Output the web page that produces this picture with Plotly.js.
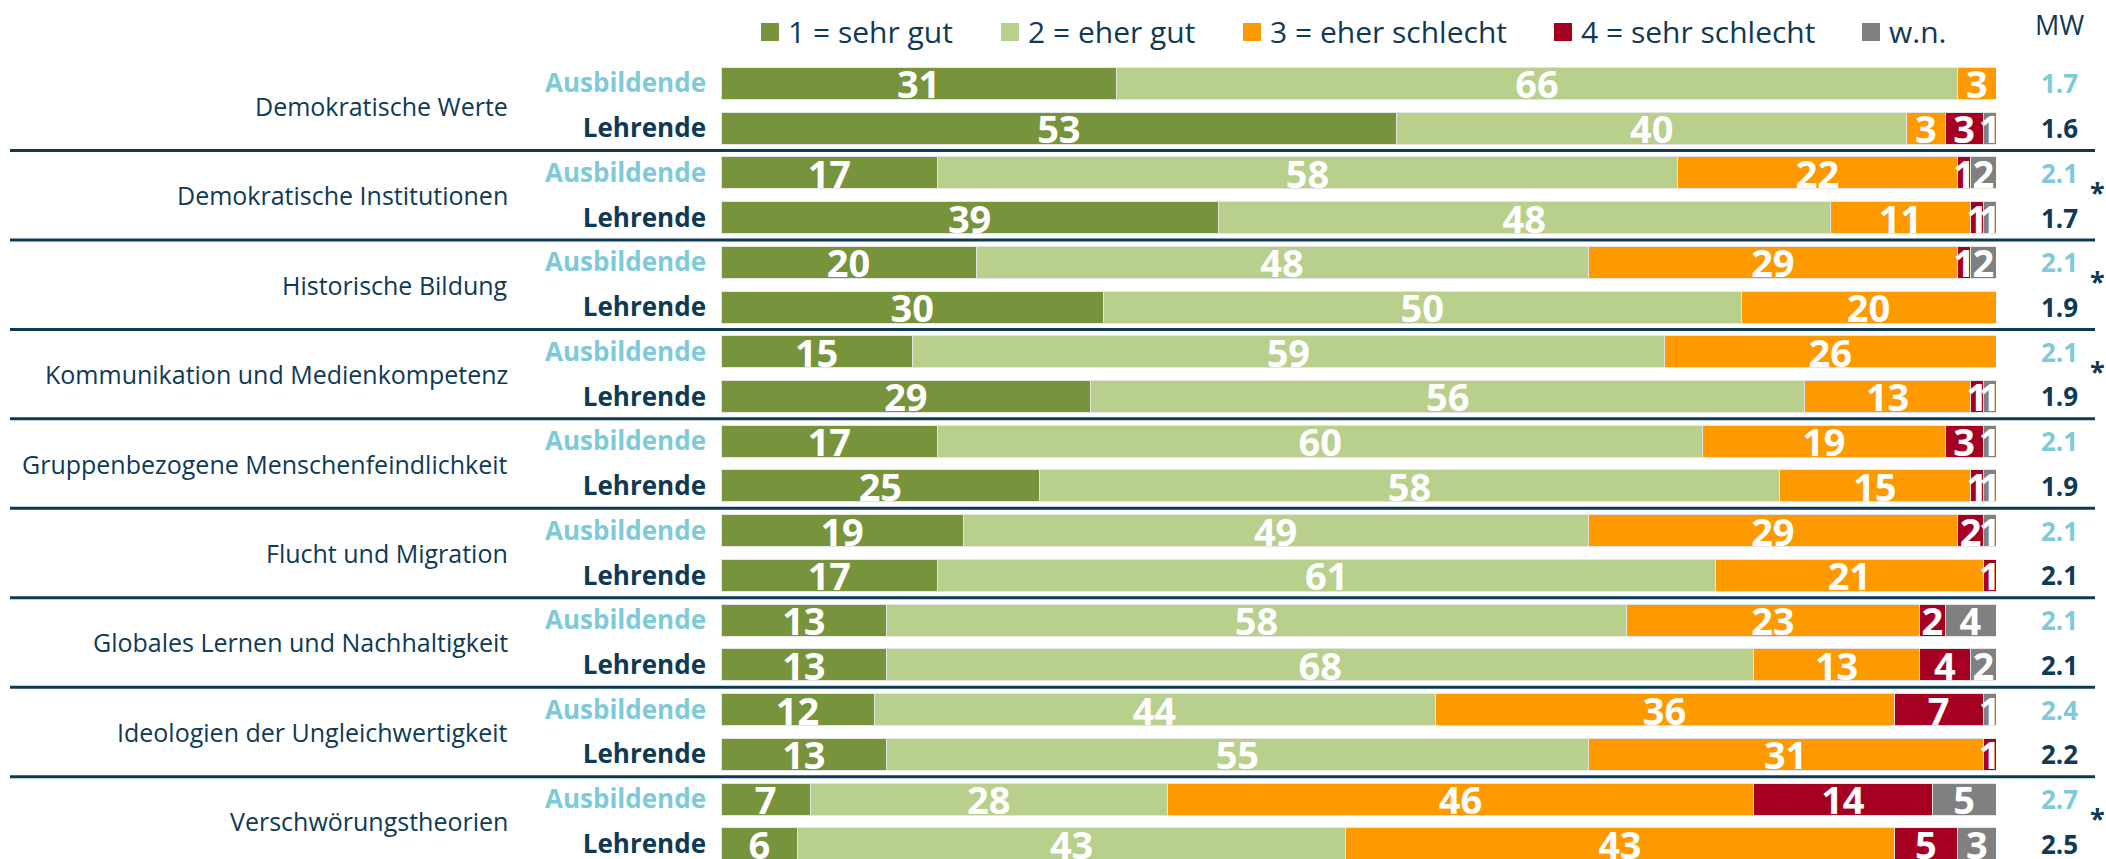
<!DOCTYPE html>
<html>
<head>
<meta charset="utf-8">
<script src="https://cdn.plot.ly/plotly-3.0.1.min.js"></script>
<style>html,body{margin:0;padding:0;background:#fff;}#chart{width:2106px;height:859px;}</style>
</head>
<body>
<div id="chart"></div>
<script>
// ---------- DATA ----------
const groups = [
  'Demokratische Werte',
  'Demokratische Institutionen',
  'Historische Bildung',
  'Kommunikation und Medienkompetenz',
  'Gruppenbezogene Menschenfeindlichkeit',
  'Flucht und Migration',
  'Globales Lernen und Nachhaltigkeit',
  'Ideologien der Ungleichwertigkeit',
  'Verschwörungstheorien'
];
const roles = ['Ausbildende', 'Lehrende'];
const seriesNames = ['1 = sehr gut', '2 = eher gut', '3 = eher schlecht', '4 = sehr schlecht', 'w.n.'];
// rows: group x role (Ausbildende, Lehrende)
const sehrGut      = [31,53, 17,39, 20,30, 15,29, 17,25, 19,17, 13,13, 12,13,  7, 6];
const eherGut      = [66,40, 58,48, 48,50, 59,56, 60,58, 49,61, 58,68, 44,55, 28,43];
const eherSchlecht = [ 3, 3, 22,11, 29,20, 26,13, 19,15, 29,21, 23,13, 36,31, 46,43];
const sehrSchlecht = [ 0, 3,  1, 1,  1, 0,  0, 1,  3, 1,  2, 1,  2, 4,  7, 1, 14, 5];
const wn           = [ 0, 1,  2, 1,  2, 0,  0, 1,  1, 1,  1, 0,  4, 2,  1, 0,  5, 3];
const mw           = ['1.7','1.6','2.1','1.7','2.1','1.9','2.1','1.9','2.1','1.9','2.1','2.1','2.1','2.1','2.4','2.2','2.7','2.5'];
const significant  = [false, true, true, true, false, false, false, false, true];

// ---------- STYLE ----------
const colors = ['#77933C', '#B9D08D', '#FF9900', '#A50021', '#808080'];
const navy = '#0E3A55';
const teal = '#7ECAD9';
const roleColors = [teal, navy];
const FONT = 'Open Sans, Noto Sans, sans-serif';

const series = [sehrGut, eherGut, eherSchlecht, sehrSchlecht, wn];
const nRows = groups.length * roles.length;
const rowIdx = Array.from({length: nRows}, (_, i) => i);
const rowRole = rowIdx.map(i => i % roles.length);

const traces = series.map((vals, s) => ({
  type: 'bar',
  orientation: 'h',
  name: seriesNames[s],
  x: vals,
  y: rowIdx,
  marker: {color: colors[s], line: {color: '#E4E4E4', width: 1}},
  text: vals.map(v => v > 0 ? String(v) : ''),
  textposition: 'inside',
  insidetextanchor: 'middle',
  constraintext: 'none',
  textangle: 0,
  textfont: {family: FONT, size: 38, color: '#FFFFFF', weight: 700},
  cliponaxis: false,
  showlegend: false,
  hoverinfo: 'skip'
}));

// layout geometry (pixels of the 2106x859 figure)
const W = 2106, H = 859;
const mL = 721, mR = 110, mT = 61, mB = 0;
const plotW = W - mL - mR, plotH = H - mT - mB;
const px2x = p => (p - mL) / plotW;
const py2y = p => (H - mB - p) / plotH;

const annotations = [];
const shapes = [];

// group labels
groups.forEach((g, gi) => {
  annotations.push({
    xref: 'paper', yref: 'y', x: px2x(510), y: gi * 2 + 0.5,
    xanchor: 'right', yanchor: 'middle', showarrow: false,
    text: g, font: {family: FONT, size: 25, color: navy}
  });
  if (significant[gi]) {
    annotations.push({
      xref: 'paper', yref: 'y', x: px2x(2097), y: gi * 2 + 0.5,
      xanchor: 'center', yanchor: 'middle', showarrow: false, yshift: 4,
      text: '<b>*</b>', font: {family: FONT, size: 27, color: navy}
    });
  }
  if (gi > 0) {
    shapes.push({
      type: 'line', xref: 'paper', yref: 'y',
      x0: px2x(10), x1: px2x(2095), y0: gi * 2 - 0.5, y1: gi * 2 - 0.5,
      line: {color: navy, width: 3}
    });
  }
});

// MW values
rowIdx.forEach(i => {
  annotations.push({
    xref: 'paper', yref: 'y', x: px2x(2059), y: i,
    xanchor: 'center', yanchor: 'middle', showarrow: false,
    text: '<b>' + mw[i] + '</b>', font: {family: FONT, size: 26, color: roleColors[rowRole[i]]}
  });
});
annotations.push({
  xref: 'paper', yref: 'paper', x: px2x(2059), y: py2y(25),
  xanchor: 'center', yanchor: 'middle', showarrow: false,
  text: 'MW', font: {family: FONT, size: 27, color: navy}
});

// custom legend
const legendSquareX = [761, 1001, 1243, 1554, 1862];
const legendSize = 18, legendCY = 32;
seriesNames.forEach((nm, s) => {
  shapes.push({
    type: 'rect', xref: 'paper', yref: 'paper',
    x0: px2x(legendSquareX[s]), x1: px2x(legendSquareX[s] + legendSize),
    y0: py2y(legendCY + legendSize / 2), y1: py2y(legendCY - legendSize / 2),
    fillcolor: colors[s], line: {width: 0}
  });
  annotations.push({
    xref: 'paper', yref: 'paper', x: px2x(legendSquareX[s] + legendSize + 7), y: py2y(legendCY),
    xanchor: 'left', yanchor: 'middle', showarrow: false,
    text: nm, font: {family: FONT, size: 30, color: navy}
  });
});

const layout = {
  width: W, height: H,
  margin: {l: mL, r: mR, t: mT, b: mB, pad: 0},
  paper_bgcolor: '#FFFFFF', plot_bgcolor: '#FFFFFF',
  barmode: 'stack', bargap: 0.285,
  showlegend: false,
  xaxis: {range: [0, 100], visible: false, fixedrange: true},
  yaxis: {
    type: 'linear',
    range: [-0.5 + plotH / 44.73, -0.5],
    tickvals: rowIdx,
    ticktext: rowIdx.map(i => '<b><span style="color:' + roleColors[rowRole[i]] + '">' + roles[rowRole[i]] + '</span></b>'),
    tickfont: {family: FONT, size: 26, color: navy},
    ticks: '', ticklabelstandoff: 14, ticklabeloverflow: 'allow',
    showgrid: false, zeroline: false, showline: false, automargin: false, fixedrange: true
  },
  annotations: annotations,
  shapes: shapes
};

Plotly.newPlot('chart', traces, layout, {displayModeBar: false, staticPlot: true});
</script>
</body>
</html>
